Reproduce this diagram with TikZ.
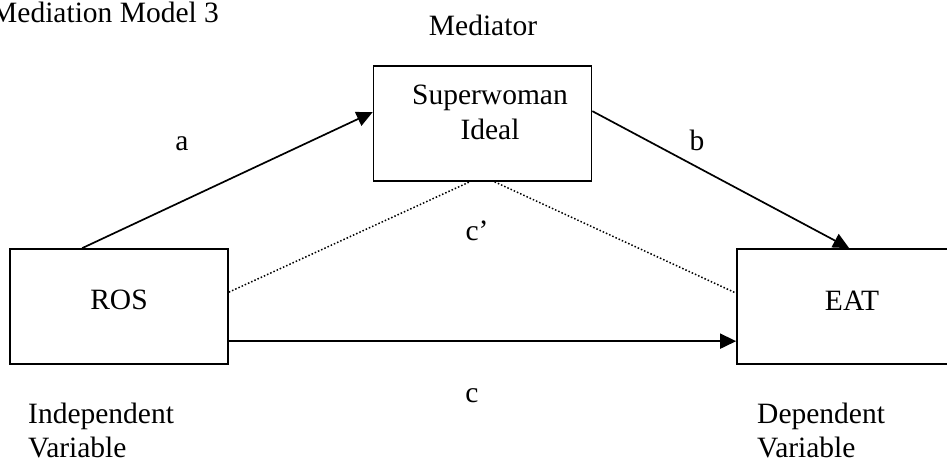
\documentclass[tikz,border=0pt]{standalone}
\usepackage{fontspec}
\setmainfont{Liberation Serif}
\usetikzlibrary{arrows.meta,calc}
\begin{document}
\begin{tikzpicture}[x=1pt,y=-1pt,
  box/.style={draw, line width=1.7pt, inner sep=0pt, minimum width=218pt, minimum height=115pt},
  txt/.style={font=\fontsize{29.5}{33}\selectfont, inner sep=0pt, anchor=base},
  conn/.style={line width=1.7pt},
  arr/.style={conn, -{Triangle[length=16pt,width=15pt]}},
  dotline/.style={line width=1.5pt, dash pattern=on 1.5pt off 2pt}]
\clip (0,0) rectangle (947,464);
\useasboundingbox (0,0) rectangle (947,464);
% boxes
\node[box] (ros) at (119,306.5) {};
\node[box] (sw) at (482.5,123.5) {};
\node[box] (eat) at (846,306.5) {};
% connectors
\draw[arr] ($(ros.north west)+(73,0)$) -- ($(sw.north west)+(0,47)$);
\draw[arr] ($(sw.north east)+(0,46)$) -- ($(eat.north west)+(113,0)$);
\draw[arr] ($(ros.north east)+(0,93)$) -- ($(eat.north west)+(0,93)$);
\draw[dotline] ($(ros.north east)+(0,44)$) -- ($(sw.south west)+(97,0)$);
\draw[dotline] ($(sw.south west)+(122,0)$) -- ($(eat.north west)+(0,45)$);
% texts
\node[txt, anchor=base west] (title) at (-9,22) {Mediation Model 3};
\node[txt] (med) at (483,35) {Mediator};
\node[txt] (sw1) at (490,104) {Superwoman};
\node[txt] (sw2) at (490,139) {Ideal};
\node[txt] (rostxt) at (119,309) {ROS};
\node[txt] (eattxt) at (852,310) {EAT};
\node[txt] (la) at (182,150) {a};
\node[txt] (lb) at (697,150) {b};
\node[txt] (lcp) at (477,240) {c’};
\node[txt] (lc) at (472,402) {c};
\node[txt, anchor=base west] (iv1) at (28,423) {Independent};
\node[txt, anchor=base west] (iv2) at (28,457) {Variable};
\node[txt, anchor=base west] (dv1) at (757,423) {Dependent};
\node[txt, anchor=base west] (dv2) at (757,457) {Variable};
\end{tikzpicture}
\end{document}
